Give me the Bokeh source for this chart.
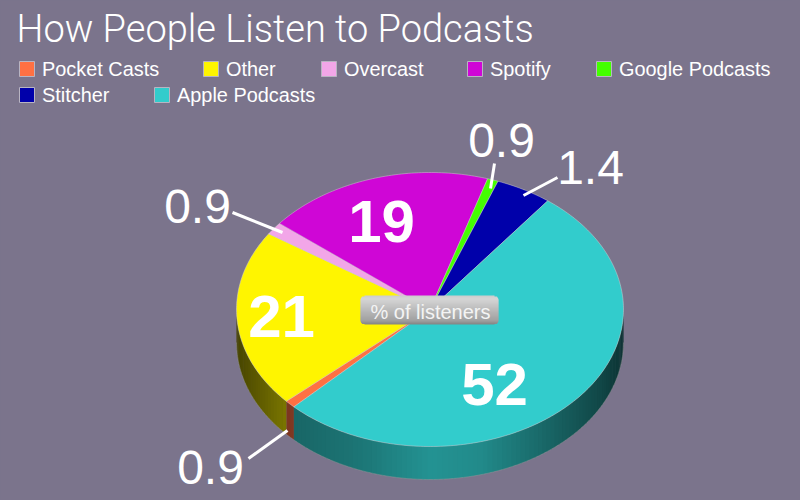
import math
import numpy as np
from bokeh.plotting import figure
from bokeh.embed import file_html
from bokeh.resources import INLINE
from bokeh.core.properties import value

# ---- data ----
categories = ["Pocket Casts", "Other", "Overcast", "Spotify", "Google Podcasts", "Stitcher", "Apple Podcasts"]
slice_values = [0.9, 21, 1.5, 19, 0.9, 4.7, 52]
value_labels = ["0.9", "21", "0.9", "19", "0.9", "1.4", "52"]
colors = ["#ff7043", "#fff500", "#f2a6e8", "#cf06d6", "#44ff00", "#0000aa", "#32cccc"]
title_text = "How People Listen to Podcasts"
pill_text = "% of listeners"

# ---- layout (page pixels) ----
BG = "#7b748c"
W, H = 792, 500
CX, CY, RX, RY, DEPTH = 429.5, 309, 193.5, 137, 33
START = 225.3
label_pos = [(210, 467), (281, 316), (197, 206), (381, 221), (501, 140), (590, 167), (494, 384)]
leaders = [((248, 458), (287, 430)), None, ((232, 212), (282, 232)), None,
           ((494, 163), (490, 188)), ((523, 195), (557, 177)), None]
legend_pos = [(19, 68.5), (203, 68.5), (321, 68.5), (467, 68.5), (596, 68.5), (19, 94.5), (154, 94.5)]
wall_x = [236, 290, 360, 430, 480, 540, 600, 623]
wall_f = [0.28, 0.50, 0.58, 0.72, 0.68, 0.52, 0.35, 0.25]


def ex(a, r=1.0):
    return CX + RX * r * np.cos(np.radians(a))


def ey(a, r=1.0):
    return CY - RY * r * np.sin(np.radians(a))


def shade(hex_color, f):
    c = [int(hex_color[i:i + 2], 16) for i in (1, 3, 5)]
    return "#%02x%02x%02x" % tuple(min(255, int(v * f)) for v in c)


p = figure(width=W, height=H, x_range=(0, W), y_range=(H, 0),
           output_backend="svg", toolbar_location=None, min_border=0,
           background_fill_color=BG, border_fill_color=BG, outline_line_color=None)
p.axis.visible = False
p.grid.visible = False

total = sum(slice_values)
edges = [START]
for v in slice_values:
    edges.append(edges[-1] - v / total * 360)

xs, ys, cs = [], [], []
for i, col in enumerate(colors):
    lo, hi = sorted((edges[i], edges[i + 1]))
    for shift in (0, 360, -360):
        l, h = max(lo + shift, 180), min(hi + shift, 360)
        if h <= l:
            continue
        n = max(2, int((h - l) / 1.5))
        grid = np.linspace(l, h, n + 1)
        for s, e in zip(grid[:-1], grid[1:]):
            e2 = min(e + 0.5, h)
            aa = np.linspace(s, e2, 4)
            px = ex(aa)
            py = ey(aa)
            xs.append(list(px) + list(px[::-1]))
            ys.append(list(py) + list((py + DEPTH)[::-1]))
            cs.append(shade(col, float(np.interp(ex((s + e) / 2), wall_x, wall_f))))
p.patches(xs, ys, fill_color=cs, fill_alpha=1, line_color=None)

aa = np.linspace(180, 360, 181)
p.line(ex(aa), ey(aa) + DEPTH, line_color="#9a9a9a", line_alpha=0.45, line_width=1)

for i, col in enumerate(colors):
    aa = np.linspace(edges[i], edges[i + 1], max(3, int(abs(edges[i + 1] - edges[i])) + 2))
    p.patch([CX] + list(ex(aa)), [CY] + list(ey(aa)), fill_color=col, fill_alpha=1,
            line_color="#d8d8d8", line_alpha=0.55, line_width=0.8)

for ld in leaders:
    if ld:
        p.line([ld[0][0], ld[1][0]], [ld[0][1], ld[1][1]], line_color="white", line_width=3)

for i, txt in enumerate(value_labels):
    bold = leaders[i] is None
    p.text([label_pos[i][0]], [label_pos[i][1]], text=[txt], text_color="white",
           text_font=value("Liberation Sans"), text_font_size="60px" if bold else "48px",
           text_font_style="bold" if bold else "normal",
           text_align="center", text_baseline="middle")

# pill: opaque rows drawn as polygons, each overlapping the next
PX0, PX1, PY0, PY1, PR = 360, 498, 295, 324, 4
rx_, ry_, rc_ = [], [], []
for y in range(PY0, PY1):
    inset = 0.0
    if y - PY0 < PR:
        inset = PR - math.sqrt(max(0, PR ** 2 - (PR - (y - PY0)) ** 2))
    elif PY1 - 1 - y < PR:
        inset = PR - math.sqrt(max(0, PR ** 2 - (PR - (PY1 - 1 - y)) ** 2))
    t = (y - PY0) / (PY1 - PY0)
    g = int(np.interp(t, [0, 0.1, 0.85, 1], [205, 214, 160, 125]))
    rx_.append([PX0 + inset, PX1 - inset, PX1 - inset, PX0 + inset])
    ry_.append([y, y, min(y + 1.6, PY1), min(y + 1.6, PY1)])
    rc_.append("#%02x%02x%02x" % (g, g, g))
p.patches(rx_, ry_, fill_color=rc_, fill_alpha=1, line_color=None)
p.text([430], [311], text=[pill_text], text_color="#f4f4f4", text_font=value("Liberation Sans"),
       text_font_size="20px", text_align="center", text_baseline="middle")

p.text([16], [28], text=[title_text], text_color="white", text_font=value("Roboto Light"),
       text_font_size="38px", text_align="left", text_baseline="middle")

for (lx, ly), name, col in zip(legend_pos, categories, colors):
    p.quad(left=[lx], right=[lx + 15], top=[ly - 7.5], bottom=[ly + 7.5], fill_color=col, fill_alpha=1,
           line_color="#b8b4c2", line_width=1)
    p.text([lx + 22.5], [ly], text=[name], text_color="white", text_font=value("Liberation Sans"),
           text_font_size="19.9px", text_align="left", text_baseline="middle")

html = file_html(p, INLINE)
html = html.replace("<head>", "<head><style>html,body{background:%s}</style>" % BG, 1)
open("out.html", "w").write(html)
